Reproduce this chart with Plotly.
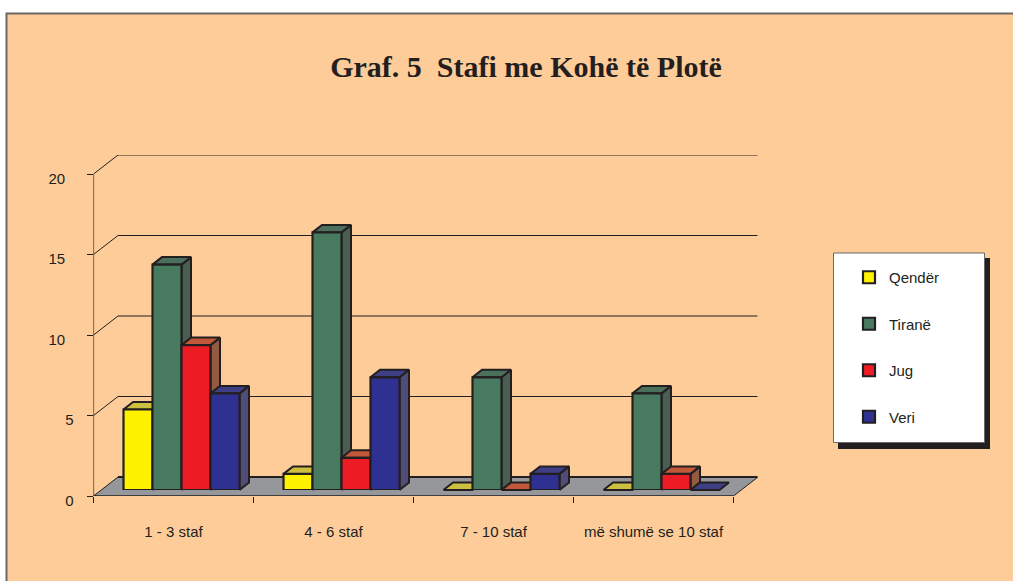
import plotly.graph_objects as go

W, H = 1013, 581
categories = ["1 - 3 staf", "4 - 6 staf", "7 - 10 staf", "më shumë se 10 staf"]
series_names = ["Qendër", "Tiranë", "Jug", "Veri"]
qender = [5, 1, 0, 0]
tirane = [14, 16, 7, 6]
jug = [9, 2, 0, 1]
veri = [6, 7, 1, 0]
y_ticks = [0, 5, 10, 15, 20]
y_tick_labels = ["0", "5", "10  ", "15  ", "20  "]
title_text = "Graf. 5  Stafi me Kohë të Plotë"

front = ["#FFF200", "#487A60", "#ED1C24", "#2E3192"]
top = ["#CDBF3F", "#4A6F5A", "#C2573A", "#3F3F85"]
side = ["#A89E20", "#4A5E52", "#945A42", "#514C78"]
DARK = "#231F20"
BG = "#FECC99"
FONT = "Liberation Sans"
FS = 15

# pixel geometry
X0, Y0 = 93.5, 496.0
PX_CAT = 160.0
PX_UNIT = 16.1
WALL_DX, WALL_DY = 24.5, 19.0
FRONT_DX, FRONT_DY = 8.0, 6.0
BAR_DX, BAR_DY = 9.5, 7.5
BAR_W = 29.0 / PX_CAT
right_px, top_px = X0 + 664, Y0 - 341

xr = [-0.5, -0.5 + 664 / PX_CAT]
yr = [0, 341 / PX_UNIT]
n = len(categories)


def fx(p):
    return p / W


def fy(p):
    return 1 - p / H


data = [qender, tirane, jug, veri]
fig = go.Figure()

# depth faces of the bars, in draw order
ox, oy = FRONT_DX / PX_CAT, FRONT_DY / PX_UNIT
dx, dy = BAR_DX / PX_CAT, BAR_DY / PX_UNIT
for c in range(n):
    for s in range(4):
        v = data[s][c]
        l = c + (s - 2) * BAR_W + ox
        r = l + BAR_W
        b = oy
        t = oy + v
        if v > 0:
            fig.add_trace(go.Scatter(
                x=[r, r + dx, r + dx, r, r], y=[b, b + dy, t + dy, t, b],
                mode="lines", fill="toself", fillcolor=side[s],
                line=dict(color=DARK, width=2), showlegend=False, hoverinfo="skip"))
        fig.add_trace(go.Scatter(
            x=[l, r, r + dx, l + dx, l], y=[t, t, t + dy, t + dy, t],
            mode="lines", fill="toself", fillcolor=top[s],
            line=dict(color=DARK, width=2), showlegend=False, hoverinfo="skip"))

# front faces on the shifted front plane
for s, name in enumerate(series_names):
    fig.add_trace(go.Bar(
        x=list(range(n)), y=data[s], name=name, xaxis="x2", yaxis="y2",
        marker=dict(color=front[s], line=dict(color=DARK, width=2.2)),
        legendgroup=name, hoverinfo="skip"))

# carrier for the value labels axis
fig.add_trace(go.Scatter(x=[None], y=[None], yaxis="y3", showlegend=False, hoverinfo="skip"))

shapes = [
    dict(type="rect", xref="paper", yref="paper", x0=fx(6.5), x1=1.02, y0=-0.02, y1=fy(13.5),
         fillcolor=BG, line=dict(color="#6D6667", width=2), layer="below"),
    dict(type="rect", xref="paper", yref="paper", x0=fx(838), x1=fx(990), y0=fy(449), y1=fy(258),
         fillcolor=DARK, line=dict(width=0), layer="below"),
    dict(type="rect", xref="paper", yref="paper", x0=fx(833.5), x1=fx(984.5), y0=fy(442.5), y1=fy(253),
         fillcolor="white", line=dict(color="#6D6667", width=1), layer="below"),
]
wx, wy = WALL_DX / PX_CAT, WALL_DY / PX_UNIT
for v in y_ticks[1:]:
    shapes.append(dict(type="line", xref="x", yref="y", x0=-0.5, y0=v, x1=-0.5 + wx, y1=v + wy,
                       line=dict(color=DARK, width=1), layer="below"))
    shapes.append(dict(type="line", xref="x", yref="y", x0=-0.5 + wx, y0=v + wy, x1=n - 0.5 + wx, y1=v + wy,
                       line=dict(color=DARK, width=1), layer="below"))
# floor
shapes.append(dict(type="path", xref="x", yref="y", layer="below",
                   path=f"M -0.5 0 L {n-0.5} 0 L {n-0.5+wx} {wy} L {-0.5+wx} {wy} Z",
                   fillcolor="#96979B", line=dict(width=0)))
shapes.append(dict(type="line", xref="x", yref="y", x0=-0.5 + wx, y0=wy, x1=n - 0.5 + wx, y1=wy,
                   line=dict(color=DARK, width=2), layer="below"))
shapes.append(dict(type="line", xref="x", yref="y", x0=-0.5, y0=0, x1=n - 0.5, y1=0,
                   line=dict(color=DARK, width=1.4), layer="below"))
shapes.append(dict(type="line", xref="x", yref="y", x0=-0.5, y0=0, x1=-0.5 + wx, y1=wy,
                   line=dict(color=DARK, width=1), layer="below"))
shapes.append(dict(type="line", xref="x", yref="y", x0=n - 0.5, y0=0, x1=n - 0.5 + wx, y1=wy,
                   line=dict(color=DARK, width=1), layer="below"))
shapes.append(dict(type="line", xref="x", yref="y", x0=-0.5, y0=0, x1=-0.5, y1=y_ticks[-1],
                   line=dict(color=DARK, width=1.2), layer="below"))

dom_x = [fx(X0), fx(right_px)]
dom_y = [fy(Y0), fy(top_px)]
dom_x2 = [fx(X0 + FRONT_DX), fx(right_px + FRONT_DX)]
dom_y2 = [fy(Y0 - FRONT_DY), fy(top_px - FRONT_DY)]
dom_y3 = [fy(Y0 + 4.5), fy(top_px + 4.5)]

fig.update_layout(
    width=W, height=H, autosize=False,
    margin=dict(l=0, r=0, t=0, b=0, autoexpand=False),
    paper_bgcolor="white", plot_bgcolor="rgba(0,0,0,0)",
    barmode="group", bargap=1 - 4 * BAR_W, bargroupgap=0,
    shapes=shapes,
    font=dict(family=FONT, size=FS, color=DARK),
    title=dict(text=title_text, x=526 / W, xanchor="center", y=fy(66), yanchor="middle",
               font=dict(family="Liberation Serif", size=30, color=DARK, weight="bold")),
    xaxis=dict(domain=dom_x, range=xr, anchor="y", showgrid=False, zeroline=False, showline=False,
               tickmode="array", tickvals=list(range(n)), ticktext=categories, ticks="",
               ticklabelstandoff=25, tickfont=dict(family=FONT, size=FS, color=DARK),
               minor=dict(tickmode="array", tickvals=[i - 0.5 for i in range(n + 1)],
                          ticks="outside", ticklen=6, tickwidth=1, tickcolor=DARK, showgrid=False)),
    yaxis=dict(domain=dom_y, range=yr, anchor="x", showgrid=False, zeroline=False, showline=False,
               tickmode="array", tickvals=y_ticks, ticks="outside", ticklen=6, tickwidth=1,
               tickcolor=DARK, showticklabels=False),
    yaxis3=dict(domain=dom_y3, range=yr, anchor="x", showgrid=False, zeroline=False, showline=False,
                tickmode="array", tickvals=y_ticks, ticktext=y_tick_labels, ticks="",
                ticklabelstandoff=19, tickfont=dict(family=FONT, size=FS, color=DARK)),
    xaxis2=dict(domain=dom_x2, range=xr, anchor="y2", visible=False),
    yaxis2=dict(domain=dom_y2, range=yr, anchor="x2", visible=False),
    legend=dict(x=fx(849), y=fy(261), xanchor="left", yanchor="top", bgcolor="rgba(0,0,0,0)",
                borderwidth=0, tracegroupgap=24, traceorder="grouped",
                font=dict(family=FONT, size=FS, color=DARK)),
)

fig.write_html("out.html", post_script="document.body.style.margin='0';",
               config={"displayModeBar": False})
